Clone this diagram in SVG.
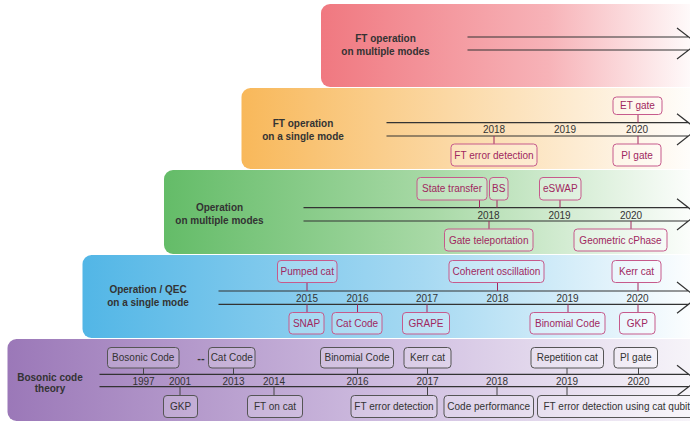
<svg xmlns="http://www.w3.org/2000/svg" width="690" height="422" viewBox="0 0 690 422">
<style>
.title{font-family:"Liberation Sans",Arial,sans-serif;font-size:10px;font-weight:bold;fill:#333;text-anchor:middle}
.yr{font-family:"Liberation Sans",Arial,sans-serif;font-size:10px;fill:#333;text-anchor:middle}
.bt{font-family:"Liberation Sans",Arial,sans-serif;font-size:10px;fill:#a0285f;text-anchor:middle}
.gt{font-family:"Liberation Sans",Arial,sans-serif;font-size:10px;fill:#333;text-anchor:middle}
.box{fill:#ffffff;fill-opacity:0.25;stroke:#c65a8c;stroke-width:1}
.gbox{fill:#ffffff;fill-opacity:0.2;stroke:#555;stroke-width:1}
.axis{stroke:#333;stroke-width:1.2;fill:none}
.tick{stroke:#a0285f;stroke-width:1}
.gtick{stroke:#444;stroke-width:1}
</style>
<defs>
<linearGradient id="gRed" x1="0" y1="0" x2="1" y2="0"><stop offset="0" stop-color="#f07880"/><stop offset="0.6" stop-color="#f7b3b8"/><stop offset="1" stop-color="#ffffff"/></linearGradient>
<linearGradient id="gOrange" x1="0" y1="0" x2="1" y2="0"><stop offset="0" stop-color="#f8b85a"/><stop offset="0.45" stop-color="#fbd8a4"/><stop offset="1" stop-color="#ffffff"/></linearGradient>
<linearGradient id="gGreen" x1="0" y1="0" x2="1" y2="0"><stop offset="0" stop-color="#64bc68"/><stop offset="0.5" stop-color="#a8d9a6"/><stop offset="1" stop-color="#ffffff"/></linearGradient>
<linearGradient id="gBlue" x1="0" y1="0" x2="1" y2="0"><stop offset="0" stop-color="#52b6e6"/><stop offset="0.55" stop-color="#a6d9f2"/><stop offset="1" stop-color="#ffffff"/></linearGradient>
<linearGradient id="gPurple" x1="0" y1="0" x2="1" y2="0"><stop offset="0" stop-color="#9b78b8"/><stop offset="0.55" stop-color="#cfbde0"/><stop offset="1" stop-color="#f8f6fa"/></linearGradient>
</defs>

<g id="panels">
<rect id="panel-ft-multi" x="321" y="4" width="380" height="83" rx="9" fill="url(#gRed)"/>
<rect id="panel-ft-single" x="241.5" y="88" width="460" height="81" rx="9" fill="url(#gOrange)"/>
<rect id="panel-op-multi" x="164" y="170" width="537" height="84" rx="9" fill="url(#gGreen)"/>
<rect id="panel-op-single" x="82.5" y="255" width="619" height="83" rx="9" fill="url(#gBlue)"/>
<rect id="panel-theory" x="7.5" y="339" width="694" height="82" rx="9" fill="url(#gPurple)"/>
</g>

<g id="titles">
<text class="title" x="385.5" y="42">FT operation</text>
<text class="title" x="385.5" y="55">on multiple modes</text>
<text class="title" x="303" y="127">FT operation</text>
<text class="title" x="303" y="140">on a single mode</text>
<text class="title" x="219.5" y="211">Operation</text>
<text class="title" x="219.5" y="224">on multiple modes</text>
<text class="title" x="148" y="292.5">Operation / QEC</text>
<text class="title" x="148" y="305.5">on a single mode</text>
<text class="title" x="50" y="380.5">Bosonic code</text>
<text class="title" x="50" y="392">theory</text>
</g>

<g id="connectors">
<path class="axis" d="M467.5,37H689M467.5,50H689M677,28L697,43.5L677,59"/>
<path class="axis" d="M386.5,122.7H689M386.5,136H689M677,113.7L697,129.35L677,145"/>
<path class="axis" d="M303.5,207.7H689M303.5,221H689M677,198.7L697,214.35L677,230"/>
<path class="axis" d="M218.5,291H689M218.5,304.3H689M677,282L697,297.65L677,313.3"/>
<path class="axis" d="M99.5,374.3H689M99.5,386.7H689M677,365.3L697,380.5L677,395.7"/>
<g class="tick">
<line x1="638" y1="114.5" x2="638" y2="122.7"/>
<line x1="494" y1="136" x2="494" y2="144"/>
<line x1="638" y1="136" x2="638" y2="144"/>
<line x1="479.5" y1="200" x2="479.5" y2="207.7"/>
<line x1="497" y1="200" x2="497" y2="207.7"/>
<line x1="560" y1="200" x2="560" y2="207.7"/>
<line x1="489" y1="221" x2="489" y2="229"/>
<line x1="631" y1="221" x2="631" y2="229"/>
<line x1="307" y1="282.5" x2="307" y2="291"/>
<line x1="497.5" y1="282.5" x2="497.5" y2="291"/>
<line x1="638" y1="282.5" x2="638" y2="291"/>
<line x1="307" y1="304.3" x2="307" y2="312.5"/>
<line x1="357.5" y1="304.3" x2="357.5" y2="312.5"/>
<line x1="427" y1="304.3" x2="427" y2="312.5"/>
<line x1="568" y1="304.3" x2="568" y2="312.5"/>
<line x1="638" y1="304.3" x2="638" y2="312.5"/>
</g>
<g class="gtick">
<line x1="143.5" y1="368" x2="143.5" y2="374.3"/>
<line x1="233.5" y1="368" x2="233.5" y2="374.3"/>
<line x1="357.5" y1="368" x2="357.5" y2="374.3"/>
<line x1="427.5" y1="368" x2="427.5" y2="374.3"/>
<line x1="567" y1="368" x2="567" y2="374.3"/>
<line x1="638.5" y1="368" x2="638.5" y2="374.3"/>
<line x1="180" y1="386.7" x2="180" y2="395.5"/>
<line x1="274" y1="386.7" x2="274" y2="395.5"/>
<line x1="427.5" y1="386.7" x2="427.5" y2="395.5"/>
<line x1="497" y1="386.7" x2="497" y2="395.5"/>
<line x1="567" y1="386.7" x2="567" y2="395.5"/>
</g>
</g>

<g id="years">
<text class="yr" x="494" y="133.3">2018</text>
<text class="yr" x="565" y="133.3">2019</text>
<text class="yr" x="637" y="133.3">2020</text>
<text class="yr" x="488.5" y="218.7">2018</text>
<text class="yr" x="559.5" y="218.7">2019</text>
<text class="yr" x="631" y="218.7">2020</text>
<text class="yr" x="307" y="301.7">2015</text>
<text class="yr" x="357.5" y="301.7">2016</text>
<text class="yr" x="427" y="301.7">2017</text>
<text class="yr" x="497.5" y="301.7">2018</text>
<text class="yr" x="567.5" y="301.7">2019</text>
<text class="yr" x="637.5" y="301.7">2020</text>
<text class="yr" x="143.5" y="384.8">1997</text>
<text class="yr" x="180" y="384.8">2001</text>
<text class="yr" x="233.5" y="384.8">2013</text>
<text class="yr" x="274" y="384.8">2014</text>
<text class="yr" x="357.5" y="384.8">2016</text>
<text class="yr" x="427.5" y="384.8">2017</text>
<text class="yr" x="497" y="384.8">2018</text>
<text class="yr" x="567" y="384.8">2019</text>
<text class="yr" x="638.5" y="384.8">2020</text>
</g>

<g id="n-et-gate"><rect class="box" x="613" y="97" width="49" height="17.5" rx="3.5"/><text class="bt" x="637.5" y="109.3">ET gate</text></g>
<g id="n-ft-error-detection-1"><rect class="box" x="451" y="144" width="86" height="22" rx="3.5"/><text class="bt" x="494" y="158.5">FT error detection</text></g>
<g id="n-pi-gate-1"><rect class="box" x="613" y="144" width="48" height="22" rx="3.5"/><text class="bt" x="637" y="158.5">PI gate</text></g>

<g id="n-state-transfer"><rect class="box" x="417" y="177.5" width="70" height="22.5" rx="3.5"/><text class="bt" x="452" y="192.3">State transfer</text></g>
<g id="n-bs"><rect class="box" x="489.5" y="177.5" width="18.5" height="22.5" rx="3.5"/><text class="bt" x="498.75" y="192.3">BS</text></g>
<g id="n-eswap"><rect class="box" x="539.5" y="177.5" width="41.5" height="22.5" rx="3.5"/><text class="bt" x="560.25" y="192.3">eSWAP</text></g>
<g id="n-gate-teleportation"><rect class="box" x="444.5" y="229" width="88.5" height="22" rx="3.5"/><text class="bt" x="488.75" y="243.5">Gate teleportation</text></g>
<g id="n-geometric-cphase"><rect class="box" x="574" y="229" width="93" height="22" rx="3.5"/><text class="bt" x="620.5" y="243.5">Geometric cPhase</text></g>

<g id="n-pumped-cat"><rect class="box" x="277.5" y="260.5" width="59.5" height="22" rx="3.5"/><text class="bt" x="307.25" y="275">Pumped cat</text></g>
<g id="n-coherent-oscillation"><rect class="box" x="449" y="260.5" width="95" height="22" rx="3.5"/><text class="bt" x="496.5" y="275">Coherent oscillation</text></g>
<g id="n-kerr-cat-1"><rect class="box" x="612" y="260.5" width="49" height="22" rx="3.5"/><text class="bt" x="636.5" y="275">Kerr cat</text></g>
<g id="n-snap"><rect class="box" x="289" y="312.5" width="35" height="21.5" rx="3.5"/><text class="bt" x="306.5" y="326.8">SNAP</text></g>
<g id="n-cat-code-1"><rect class="box" x="332" y="312.5" width="50" height="21.5" rx="3.5"/><text class="bt" x="357" y="326.8">Cat Code</text></g>
<g id="n-grape"><rect class="box" x="402.5" y="312.5" width="47" height="21.5" rx="3.5"/><text class="bt" x="426" y="326.8">GRAPE</text></g>
<g id="n-binomial-code-1"><rect class="box" x="530" y="312.5" width="75" height="21.5" rx="3.5"/><text class="bt" x="567.5" y="326.8">Binomial Code</text></g>
<g id="n-gkp-1"><rect class="box" x="619.5" y="312.5" width="35.5" height="21.5" rx="3.5"/><text class="bt" x="637.25" y="326.8">GKP</text></g>

<g id="n-bosonic-code"><rect class="gbox" x="107.5" y="347.5" width="71.5" height="20.5" rx="3.5"/><text class="gt" x="143.25" y="361.2">Bosonic Code</text></g>
<g id="n-ellipsis"><text class="gt" x="201" y="361.5" style="font-weight:bold;font-size:11px">--</text></g>
<g id="n-cat-code-2"><rect class="gbox" x="208.5" y="347.5" width="46.5" height="20.5" rx="3.5"/><text class="gt" x="231.75" y="361.2">Cat Code</text></g>
<g id="n-binomial-code-2"><rect class="gbox" x="320.5" y="347.5" width="73" height="20.5" rx="3.5"/><text class="gt" x="357" y="361.2">Binomial Code</text></g>
<g id="n-kerr-cat-2"><rect class="gbox" x="404" y="347.5" width="47" height="20.5" rx="3.5"/><text class="gt" x="427.5" y="361.2">Kerr cat</text></g>
<g id="n-repetition-cat"><rect class="gbox" x="531" y="347.5" width="72.5" height="20.5" rx="3.5"/><text class="gt" x="567.25" y="361.2">Repetition cat</text></g>
<g id="n-pi-gate-2"><rect class="gbox" x="614" y="347.5" width="43.5" height="20.5" rx="3.5"/><text class="gt" x="635.75" y="361.2">PI gate</text></g>
<g id="n-gkp-2"><rect class="gbox" x="163.5" y="395.5" width="34" height="22" rx="3.5"/><text class="gt" x="180.5" y="410">GKP</text></g>
<g id="n-ft-on-cat"><rect class="gbox" x="247.5" y="395.5" width="55" height="22" rx="3.5"/><text class="gt" x="275" y="410">FT on cat</text></g>
<g id="n-ft-error-detection-2"><rect class="gbox" x="351" y="395.5" width="86" height="22" rx="3.5"/><text class="gt" x="394" y="410">FT error detection</text></g>
<g id="n-code-performance"><rect class="gbox" x="444" y="395.5" width="89.5" height="22" rx="3.5"/><text class="gt" x="488.75" y="410">Code performance</text></g>
<g id="n-ft-error-detection-cat-qubit"><rect class="gbox" x="537.5" y="395.5" width="170" height="22" rx="3.5"/><text class="gt" x="543.5" y="410" style="text-anchor:start">FT error detection using cat qubit</text></g>
</svg>
